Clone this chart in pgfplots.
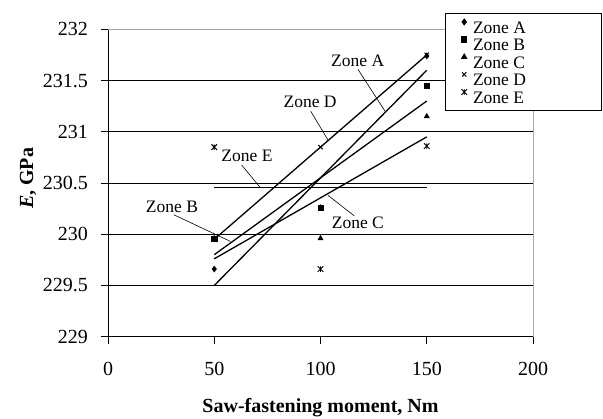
\documentclass[border=0pt]{standalone}
\usepackage{fontspec}
\setmainfont{Liberation Serif}
\usepackage{pgfplots}
\pgfplotsset{compat=1.18}
\pgfdeclareplotmark{xstar}{%
  \pgfpathmoveto{\pgfqpoint{-\pgfplotmarksize}{-\pgfplotmarksize}}%
  \pgfpathlineto{\pgfqpoint{\pgfplotmarksize}{\pgfplotmarksize}}%
  \pgfpathmoveto{\pgfqpoint{-\pgfplotmarksize}{\pgfplotmarksize}}%
  \pgfpathlineto{\pgfqpoint{\pgfplotmarksize}{-\pgfplotmarksize}}%
  \pgfpathmoveto{\pgfqpoint{0pt}{-\pgfplotmarksize}}%
  \pgfpathlineto{\pgfqpoint{0pt}{\pgfplotmarksize}}%
  \pgfusepathqstroke}
\begin{document}
\begin{tikzpicture}[x=1pt,y=1pt]
\useasboundingbox (0,0) rectangle (603,419);
\begin{axis}[
  at={(108pt,82.3pt)}, anchor=south west,
  scale only axis, width=425pt, height=307.4pt,
  xmin=0, xmax=200, ymin=229, ymax=232,
  axis lines=left, axis line style={-, black, line width=0.9pt},
  xtick={0,50,100,150,200},
  ytick={229,229.5,230,230.5,231,231.5,232},
  yticklabels={229,229.5,230,230.5,231,231.5,232},
  xticklabels={0,50,100,150,200},
  tick align=outside, major tick length=7pt,
  tick style={black, line width=0.9pt},
  ymajorgrids, major grid style={black, line width=0.9pt},
  ticklabel style={font=\fontsize{20}{24}\selectfont},
  /pgf/number format/assume math mode=true,
  xticklabel style={yshift=-15pt},
  yticklabel style={xshift=-9.5pt},
  xlabel={\textbf{Saw-fastening moment, Nm}},
  ylabel={\textbf{\textit{E}, GPa}},
  label style={font=\fontsize{20}{24}\selectfont},
  xlabel style={at={(axis description cs:0.5,-0.230)}, anchor=center},
  ylabel style={at={(axis description cs:-0.188,0.515)}, anchor=center},
  clip=false,
  legend style={at={(0.793,1.052)}, anchor=north west, draw=black, line width=0.8pt, fill=white,
    font=\fontsize{17.5}{17.5}\selectfont, inner xsep=16pt, inner ysep=4.5pt, row sep=0pt,
    nodes={inner sep=0pt, text height=15.2pt, text depth=2.3pt}},
  legend cell align=left,
  legend image code/.code={\draw[mark repeat=2,mark phase=2,#1] plot coordinates {(0pt,5pt) (6pt,5pt) (12pt,5pt)};},
]
% trend lines
\addplot[black, line width=1.3pt, forget plot] coordinates {(50,229.50) (150,231.60)};
\addplot[black, line width=1.3pt, forget plot] coordinates {(50,229.80) (150,231.30)};
\addplot[black, line width=1.3pt, forget plot] coordinates {(50,229.76) (150,230.95)};
\addplot[black, line width=1.3pt, forget plot] coordinates {(50,229.95) (150,231.75)};
\addplot[black, line width=1.3pt, forget plot] coordinates {(50,230.455) (150,230.455)};
% data
\addplot[only marks, mark=diamond*, mark size=3pt, black, mark options={fill=black}] coordinates {(50,229.66) (100,230.26) (150,231.74)};
\addlegendentry{\hspace*{6pt}\makebox[112pt][l]{Zone A}}
\addplot[only marks, mark=square*, mark size=2.6pt, black, mark options={fill=black}] coordinates {(50,229.96) (100,230.26) (150,231.45)};
\addlegendentry{\hspace*{6pt}\makebox[112pt][l]{Zone B}}
\addplot[only marks, mark=triangle*, mark size=3pt, black, mark options={fill=black}] coordinates {(50,229.96) (100,229.96) (150,231.15)};
\addlegendentry{\hspace*{6pt}\makebox[112pt][l]{Zone C}}
\addplot[only marks, mark=x, mark size=3pt, black, line width=1pt] coordinates {(50,229.95) (100,230.85) (150,231.75)};
\addlegendentry{\hspace*{6pt}\makebox[112pt][l]{Zone D}}
\addplot[only marks, mark=xstar, mark size=2.8pt, black, line width=0.9pt] coordinates {(50,230.85) (100,229.66) (150,230.86)};
\addlegendentry{\hspace*{6pt}\makebox[112pt][l]{Zone E}}
% borders
\draw[gray!70, line width=0.9pt] (rel axis cs:0,1) -- (rel axis cs:1,1) -- (rel axis cs:1,0);
% annotations
\tikzset{lab/.style={font=\fontsize{17.5}{17.5}\selectfont, inner sep=0pt}}
\node[lab] at (axis cs:117.5,231.69) {Zone A};
\draw[black, line width=0.6pt] (axis cs:117.6,231.61) -- (axis cs:130.4,231.2);
\node[lab] at (axis cs:95.1,231.29) {Zone D};
\draw[black, line width=0.6pt] (axis cs:95.4,231.20) -- (axis cs:103.5,230.92);
\node[lab] at (axis cs:65.4,230.765) {Zone E};
\draw[black, line width=0.6pt] (axis cs:62.9,230.675) -- (axis cs:71.7,230.455);
\node[lab] at (axis cs:30.1,230.27) {Zone B};
\draw[black, line width=0.6pt] (axis cs:31,230.19) -- (axis cs:57.6,229.93);
\node[lab] at (axis cs:117.6,230.11) {Zone C};
\draw[black, line width=0.6pt] (axis cs:115.8,230.18) -- (axis cs:103.5,230.38);
\end{axis}
\end{tikzpicture}
\end{document}
